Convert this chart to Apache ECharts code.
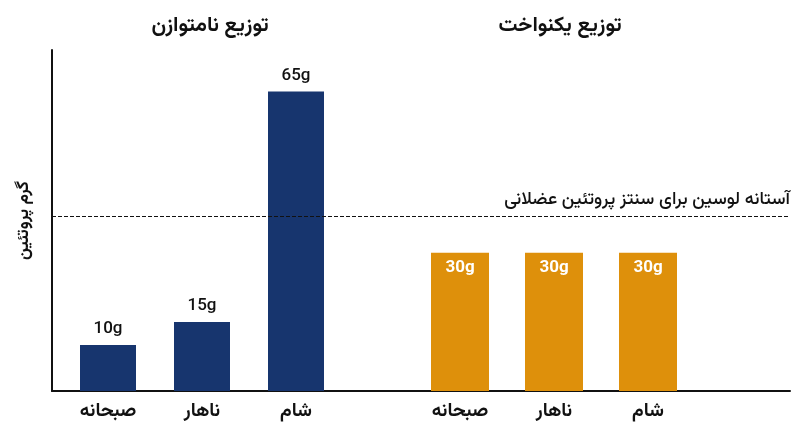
<!DOCTYPE html>
<html><head><meta charset="utf-8">
<script src="https://cdn.jsdelivr.net/npm/echarts@6/dist/echarts.min.js"></script>
<style>html,body{margin:0;padding:0;background:#fff}#c{width:800px;height:447px}</style>
</head><body><div id="c"></div>
<script>
const meals = ['صبحانه', 'ناهار', 'شام'];
const unevenValues = [10, 15, 65];
const evenValues = [30, 30, 30];
const threshold = 38;
const titles = ['توزیع نامتوازن', 'توزیع یکنواخت'];
const thresholdLabel = 'آستانه لوسین برای سنتز پروتئین عضلانی';
const yName = 'گرم پروتئین';
const yMax = 74;

const F = 'Vazirmatn, "Noto Sans", "DejaVu Sans", sans-serif';
const chart = echarts.init(document.getElementById('c'));
const catAxis = (gi) => ({
  type: 'category', gridIndex: gi, data: meals,
  axisLine: {show: false}, axisTick: {show: false},
  axisLabel: {color: '#111', fontSize: 19, fontWeight: 'bold', fontFamily: F, margin: 13}
});
const valAxis = (gi) => ({
  type: 'value', gridIndex: gi, min: 0, max: yMax, show: false
});
chart.setOption({
  animation: false,
  title: [
    {text: titles[0], left: 205, top: 12, textAlign: 'center', textStyle: {fontSize: 21, fontWeight: 'bold', color: '#111', fontFamily: F}},
    {text: titles[1], left: 555, top: 12, textAlign: 'center', textStyle: {fontSize: 21, fontWeight: 'bold', color: '#111', fontFamily: F}}
  ],
  grid: [
    {left: 61, width: 282, top: 50, bottom: 56},
    {left: 413, width: 282, top: 50, bottom: 56},
    {left: 52, right: 10, top: 50, bottom: 56}
  ],
  xAxis: [catAxis(0), catAxis(1),
    {type: 'value', gridIndex: 2, min: 0, max: 1, axisLine: {show: true, lineStyle: {color: '#111', width: 2}}, axisTick: {show: false}, axisLabel: {show: false}, splitLine: {show: false}}],
  yAxis: [valAxis(0), valAxis(1),
    {type: 'value', gridIndex: 2, min: 0, max: yMax, axisLine: {show: true, lineStyle: {color: '#111', width: 2}}, axisTick: {show: false}, axisLabel: {show: false}, splitLine: {show: false},
     name: yName, nameLocation: 'middle', nameGap: 18, nameRotate: 90,
     nameTextStyle: {fontSize: 17, fontWeight: 'bold', color: '#111', fontFamily: F}}],
  series: [
    {type: 'bar', xAxisIndex: 0, yAxisIndex: 0, data: unevenValues, barWidth: 56,
     itemStyle: {color: '#17356e'},
     label: {show: true, position: 'top', formatter: '{c}g', color: '#111', fontSize: 17, fontWeight: 500, fontFamily: F, distance: 6}},
    {type: 'bar', xAxisIndex: 1, yAxisIndex: 1, data: evenValues, barWidth: 58,
     itemStyle: {color: '#de900b'},
     label: {show: true, position: 'insideTop', formatter: '{c}g', color: '#fff', fontSize: 17, fontWeight: 'bold', fontFamily: F, distance: 8}},
    {type: 'line', xAxisIndex: 2, yAxisIndex: 2, data: [], symbol: 'none',
     markLine: {silent: true, symbol: 'none', data: [{yAxis: threshold}],
       lineStyle: {type: 'dashed', color: '#111', width: 1},
       label: {show: true, position: 'insideEndTop', formatter: thresholdLabel, color: '#111', fontSize: 18, fontWeight: 500, fontFamily: F, distance: [0, 6]}}}
  ]
});
</script></body></html>
